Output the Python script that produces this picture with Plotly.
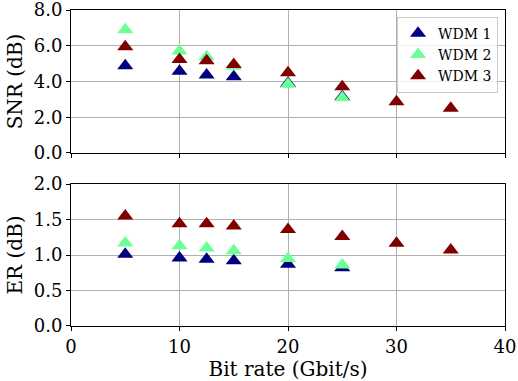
import plotly.graph_objects as go
from plotly.subplots import make_subplots

bit_rate_12 = [5, 10, 12.5, 15, 20, 25]
bit_rate_3 = [5, 10, 12.5, 15, 20, 25, 30, 35]

snr_wdm1 = [4.88, 4.58, 4.36, 4.26, 3.9, 3.15]
snr_wdm2 = [6.89, 5.70, 5.38, 4.85, 3.84, 3.09]
snr_wdm3 = [5.94, 5.23, 5.16, 4.95, 4.49, 3.70, 2.87, 2.50]

er_wdm1 = [1.01, 0.96, 0.94, 0.92, 0.87, 0.82]
er_wdm2 = [1.17, 1.13, 1.10, 1.06, 0.95, 0.86]
er_wdm3 = [1.55, 1.44, 1.44, 1.41, 1.36, 1.26, 1.165, 1.07]

x_ticks = [0, 10, 20, 30, 40]
snr_ticks = [0, 2, 4, 6, 8]
er_ticks = [0, 0.5, 1.0, 1.5, 2.0]

names = ["WDM 1", "WDM 2", "WDM 3"]
colors = ["#000080", "#6BFF96", "#800000"]

fig = make_subplots(rows=2, cols=1, shared_xaxes=False, vertical_spacing=0.1)

series = [
    (bit_rate_12, snr_wdm1, er_wdm1),
    (bit_rate_12, snr_wdm2, er_wdm2),
    (bit_rate_3, snr_wdm3, er_wdm3),
]
for (x, snr, er), name, c in zip(series, names, colors):
    mk = dict(symbol="triangle-up", size=14, color=c, line=dict(width=0))
    fig.add_trace(go.Scatter(x=x, y=snr, mode="markers", marker=mk, name=name,
                             showlegend=True, cliponaxis=False), row=1, col=1)
    fig.add_trace(go.Scatter(x=x, y=er, mode="markers", marker=mk, name=name,
                             showlegend=False, cliponaxis=False), row=2, col=1)

font = dict(family="DejaVu Serif", color="black")
axis_common = dict(showline=True, linecolor="black", linewidth=1, mirror=True,
                   showgrid=True, gridcolor="#b0b0b0", gridwidth=0.8,
                   ticks="outside", ticklen=4, tickcolor="black", automargin=False,
                   ticklabeloverflow="allow",
                   zeroline=False, tickfont=dict(size=18, family="DejaVu Serif", color="black"))

fig.update_xaxes(range=[0, 40], tickvals=x_ticks, ticktext=[str(v) for v in x_ticks], **axis_common)
fig.update_xaxes(showticklabels=False, row=1, col=1)
fig.update_xaxes(title=dict(text="Bit rate (Gbit/s)", font=dict(size=20), standoff=0), row=2, col=1)
fig.update_yaxes(**axis_common)
fig.update_yaxes(range=[0, 8], tickvals=snr_ticks, ticktext=[f"{v:.1f}" for v in snr_ticks],
                 title=dict(text="SNR (dB)", font=dict(size=20), standoff=5), row=1, col=1)
fig.update_yaxes(range=[0, 2], tickvals=er_ticks, ticktext=[f"{v:.1f}" for v in er_ticks],
                 title=dict(text="ER (dB)", font=dict(size=20), standoff=5), row=2, col=1)

fig.update_layout(
    width=518, height=381,
    margin=dict(l=71, r=13, t=10, b=55),
    paper_bgcolor="white", plot_bgcolor="white",
    font=font,
    xaxis=dict(domain=[0, 1]),
    yaxis=dict(domain=[0.5475, 1]),
    yaxis2=dict(domain=[0, 0.449]),
    legend=dict(x=0.984, y=0.979, xanchor="right", yanchor="top",
                bgcolor="rgba(255,255,255,0.8)", bordercolor="#cccccc", borderwidth=1,
                font=dict(size=14, family="DejaVu Serif"), itemwidth=30,
                tracegroupgap=0),
)

fig.write_html("out.html")
